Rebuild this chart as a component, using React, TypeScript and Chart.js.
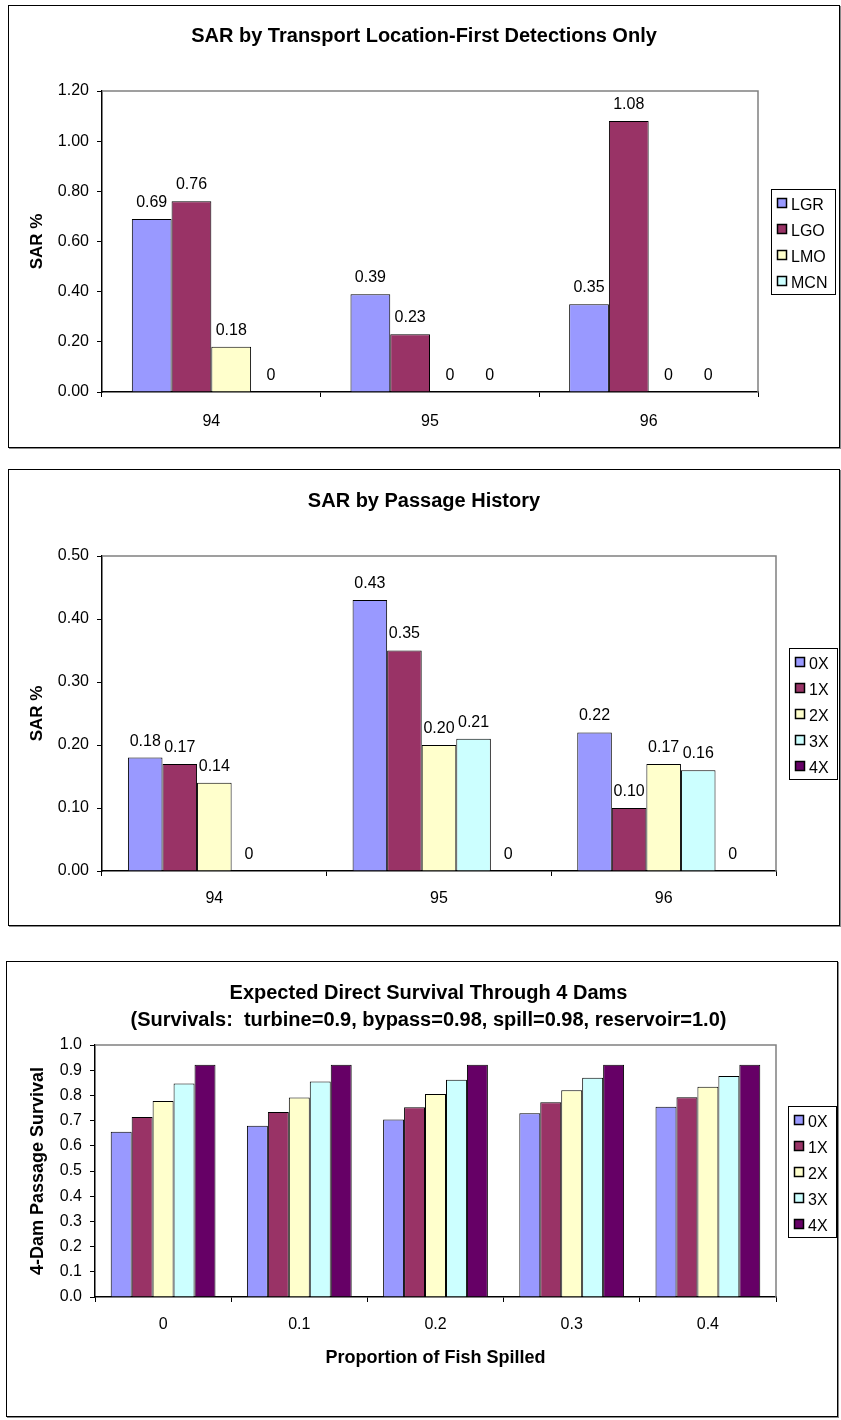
import React, { useEffect, useRef } from 'react';
import { Chart, registerables } from 'chart.js';

Chart.register(...registerables);

const FONT = "'Liberation Sans', Arial, Helvetica, sans-serif";
Chart.defaults.font.family = FONT;
Chart.defaults.color = '#000';

// Fill colours, in legend order
const seriesColors = ['#9999FF', '#993366', '#FFFFCC', '#CCFFFF', '#660066'];

// --- SAR by transport location (first detections only) ---
const transportYears = ['94', '95', '96'];
const transportLocations = ['LGR', 'LGO', 'LMO', 'MCN'];
const sarLGR = [0.69, 0.39, 0.35];
const sarLGO = [0.76, 0.23, 1.08];
const sarLMO = [0.18, 0, 0];
const sarMCN = [0, 0, 0];
const transportYTicks = [0, 0.2, 0.4, 0.6, 0.8, 1.0, 1.2];

// --- SAR by passage history ---
const passageYears = ['94', '95', '96'];
const passageGroups = ['0X', '1X', '2X', '3X', '4X'];
const sar0X = [0.18, 0.43, 0.22];
const sar1X = [0.17, 0.35, 0.1];
const sar2X = [0.14, 0.2, 0.17];
const sar3X = [0, 0.21, 0.16];
const sar4X = [null, 0, 0];
const passageYTicks = [0, 0.1, 0.2, 0.3, 0.4, 0.5];

// --- Expected direct survival through 4 dams ---
const spillProportions = ['0', '0.1', '0.2', '0.3', '0.4'];
const survival0X = [0.656, 0.68, 0.704, 0.729, 0.755];
const survival1X = [0.714, 0.734, 0.753, 0.773, 0.793];
const survival2X = [0.778, 0.792, 0.806, 0.82, 0.834];
const survival3X = [0.847, 0.855, 0.862, 0.87, 0.877];
const survival4X = [0.922, 0.922, 0.922, 0.922, 0.922];
const survivalYTicks = [0, 0.1, 0.2, 0.3, 0.4, 0.5, 0.6, 0.7, 0.8, 0.9, 1.0];

// Centre the title across the whole canvas, not only the padded layout area
const fullWidthTitle = {
  id: 'fullWidthTitle',
  afterLayout(chart: any) {
    const t = chart.titleBlock;
    if (!t) return;
    t.left = 0;
    t.right = chart.width;
    t.width = chart.width;
  },
};

// Grey frame on the top and right of the plot area
const plotFrame = {
  id: 'plotFrame',
  beforeDatasetsDraw(chart: any) {
    const { ctx, chartArea: a } = chart;
    ctx.save();
    ctx.strokeStyle = '#808080';
    ctx.lineWidth = 1.5;
    ctx.beginPath();
    ctx.moveTo(a.left, a.top);
    ctx.lineTo(a.right, a.top);
    ctx.lineTo(a.right, a.bottom);
    ctx.stroke();
    ctx.restore();
  },
};

// Value printed above each bar
const valueLabels = {
  id: 'valueLabels',
  afterDatasetsDraw(chart: any, _args: any, opts: any) {
    if (!opts || !opts.show) return;
    const ctx = chart.ctx;
    ctx.save();
    ctx.font = `16px ${FONT}`;
    ctx.fillStyle = '#000';
    ctx.textAlign = 'center';
    ctx.textBaseline = 'middle';
    chart.data.datasets.forEach((ds: any, di: number) => {
      const meta = chart.getDatasetMeta(di);
      meta.data.forEach((bar: any, i: number) => {
        const v = ds.data[i];
        if (v === null || v === undefined) return;
        const text = v === 0 ? '0' : Number(v).toFixed(2);
        ctx.fillText(text, bar.x, bar.y - opts.offset);
      });
    });
    ctx.restore();
  },
};

// Framed legend to the right of the plot area, centred on it
const boxedLegend = {
  id: 'boxedLegend',
  afterDraw(chart: any, _args: any, opts: any) {
    const { ctx, chartArea: a } = chart;
    const items = chart.data.datasets;
    const rowH = 26;
    ctx.save();
    ctx.font = `16px ${FONT}`;
    const textW = Math.max(...items.map((d: any) => ctx.measureText(d.label).width));
    const w = Math.round(20 + textW + 8);
    const h = items.length * rowH + 1;
    const left = Math.round(a.right + opts.gap);
    const top = Math.round((a.top + a.bottom) / 2 - h / 2);
    ctx.fillStyle = '#fff';
    ctx.fillRect(left, top, w, h);
    ctx.strokeStyle = '#000';
    ctx.lineWidth = 1;
    ctx.strokeRect(left + 0.5, top + 0.5, w, h);
    items.forEach((d: any, i: number) => {
      const my = top + 14 + rowH * i;
      ctx.fillStyle = d.backgroundColor;
      ctx.fillRect(left + 6, my - 5, 10, 10);
      ctx.lineWidth = 1.5;
      ctx.strokeStyle = '#000';
      ctx.strokeRect(left + 6.5, my - 4.5, 9, 9);
      ctx.fillStyle = '#000';
      ctx.textAlign = 'left';
      ctx.textBaseline = 'middle';
      ctx.fillText(d.label, left + 20, my + 3);
    });
    ctx.restore();
  },
};

type BarOptions = {
  categories: string[];
  labels: string[];
  values: (number | null)[][];
  title: string | string[];
  titleLineHeight: number;
  titlePad: { top: number; bottom: number };
  yTicks: number[];
  yDecimals: number;
  yTitle: string;
  yTitleSize: number;
  yTitlePad: number;
  yWidth: number;
  xTitle?: string;
  xTitlePad?: number;
  xHeight: number;
  xTickPad: number;
  rightPad: number;
  legendGap: number;
  categoryPercentage: number;
  showValues: boolean;
};

function barConfig(o: BarOptions): any {
  const yMax = o.yTicks[o.yTicks.length - 1];
  return {
    type: 'bar',
    data: {
      labels: o.categories,
      datasets: o.labels.map((label, i) => ({
        label,
        data: o.values[i],
        backgroundColor: seriesColors[i],
        borderColor: '#000',
        borderWidth: 1,
        categoryPercentage: o.categoryPercentage,
        barPercentage: 1,
      })),
    },
    plugins: [fullWidthTitle, plotFrame, valueLabels, boxedLegend],
    options: {
      responsive: false,
      animation: false,
      events: [],
      layout: { padding: { top: 0, left: 0, bottom: 0, right: o.rightPad } },
      scales: {
        x: {
          type: 'category',
          offset: true,
          grid: {
            display: true,
            drawOnChartArea: false,
            drawTicks: true,
            tickLength: 5,
            color: '#000',
            lineWidth: 1,
            offset: true,
          },
          border: { display: true, color: '#000', width: 1.5 },
          ticks: {
            color: '#000',
            font: { size: 16, family: FONT },
            padding: o.xTickPad,
            maxRotation: 0,
            autoSkip: false,
          },
          title: o.xTitle
            ? {
                display: true,
                text: o.xTitle,
                color: '#000',
                font: { size: 18, weight: 'bold', family: FONT },
                padding: { top: 0, bottom: o.xTitlePad },
              }
            : { display: false },
          afterFit: (s: any) => {
            s.height = o.xHeight;
          },
        },
        y: {
          min: 0,
          max: yMax,
          afterBuildTicks: (s: any) => {
            s.ticks = o.yTicks.map((v) => ({ value: v }));
          },
          grid: {
            display: true,
            drawOnChartArea: false,
            drawTicks: true,
            tickLength: 5,
            color: '#000',
            lineWidth: 1,
          },
          border: { display: true, color: '#000', width: 1.5 },
          ticks: {
            color: '#000',
            font: { size: 16, family: FONT },
            padding: 8,
            callback: (v: any) => Number(v).toFixed(o.yDecimals),
          },
          title: {
            display: true,
            text: o.yTitle,
            color: '#000',
            font: { size: o.yTitleSize, weight: 'bold', family: FONT },
            padding: { top: o.yTitlePad, bottom: 0 },
          },
          afterFit: (s: any) => {
            s.width = o.yWidth;
          },
        },
      },
      plugins: {
        legend: { display: false },
        tooltip: { enabled: false },
        title: {
          display: true,
          text: o.title,
          color: '#000',
          font: { size: 20, weight: 'bold', family: FONT, lineHeight: o.titleLineHeight },
          padding: o.titlePad,
        },
        valueLabels: { show: o.showValues, offset: 16.5 },
        boxedLegend: { gap: o.legendGap },
      },
    },
  };
}

type Rect = { x: number; y: number; w: number; h: number };

function ChartPanel({ box, canvas, build }: { box: Rect; canvas: Rect; build: () => any }) {
  const ref = useRef<HTMLCanvasElement>(null);
  useEffect(() => {
    const chart = new Chart(ref.current as HTMLCanvasElement, build());
    return () => chart.destroy();
  }, []);
  return (
    <>
      <div
        style={{
          position: 'absolute',
          left: box.x,
          top: box.y,
          width: box.w,
          height: box.h,
          border: '1px solid #000',
          boxSizing: 'border-box',
          boxShadow: '1px 1px 0 #8a8a8a',
          background: '#fff',
        }}
      />
      <canvas
        ref={ref}
        width={canvas.w}
        height={canvas.h}
        style={{ position: 'absolute', left: canvas.x, top: canvas.y, width: canvas.w, height: canvas.h }}
      />
    </>
  );
}

export default function App() {
  return (
    <div
      style={{
        position: 'absolute',
        left: 0,
        top: 0,
        width: 841,
        height: 1420,
        overflow: 'hidden',
        background: '#fff',
      }}
    >
      <ChartPanel
        box={{ x: 8, y: 5, w: 832, h: 443 }}
        canvas={{ x: 9, y: 6, w: 830, h: 441 }}
        build={() =>
          barConfig({
            categories: transportYears,
            labels: transportLocations,
            values: [sarLGR, sarLGO, sarLMO, sarMCN],
            title: 'SAR by Transport Location-First Detections Only',
            titleLineHeight: 1.2,
            titlePad: { top: 18, bottom: 43 },
            yTicks: transportYTicks,
            yDecimals: 2,
            yTitle: 'SAR %',
            yTitleSize: 17,
            yTitlePad: 18,
            yWidth: 93,
            xHeight: 55,
            xTickPad: 15,
            rightPad: 81,
            legendGap: 13,
            categoryPercentage: 4 / 5.5,
            showValues: true,
          })
        }
      />
      <ChartPanel
        box={{ x: 8, y: 469, w: 832, h: 457 }}
        canvas={{ x: 9, y: 470, w: 830, h: 455 }}
        build={() =>
          barConfig({
            categories: passageYears,
            labels: passageGroups,
            values: [sar0X, sar1X, sar2X, sar3X, sar4X],
            title: 'SAR by Passage History',
            titleLineHeight: 1.2,
            titlePad: { top: 19, bottom: 43 },
            yTicks: passageYTicks,
            yDecimals: 2,
            yTitle: 'SAR %',
            yTitleSize: 17,
            yTitlePad: 18,
            yWidth: 93,
            xHeight: 54,
            xTickPad: 13,
            rightPad: 63,
            legendGap: 13,
            categoryPercentage: 5 / 6.5,
            showValues: true,
          })
        }
      />
      <ChartPanel
        box={{ x: 6, y: 961, w: 832, h: 456 }}
        canvas={{ x: 20, y: 962, w: 817, h: 454 }}
        build={() =>
          barConfig({
            categories: spillProportions,
            labels: passageGroups,
            values: [survival0X, survival1X, survival2X, survival3X, survival4X],
            title: [
              'Expected Direct Survival Through 4 Dams',
              '(Survivals:  turbine=0.9, bypass=0.98, spill=0.98, reservoir=1.0)',
            ],
            titleLineHeight: 1.35,
            titlePad: { top: 17.5, bottom: 11.5 },
            yTicks: survivalYTicks,
            yDecimals: 1,
            yTitle: '4-Dam Passage Survival',
            yTitleSize: 18,
            yTitlePad: 7,
            yWidth: 75,
            xTitle: 'Proportion of Fish Spilled',
            xTitlePad: 47,
            xHeight: 119,
            xTickPad: 13,
            rightPad: 61,
            legendGap: 12,
            categoryPercentage: 5 / 6.5,
            showValues: false,
          })
        }
      />
    </div>
  );
}
